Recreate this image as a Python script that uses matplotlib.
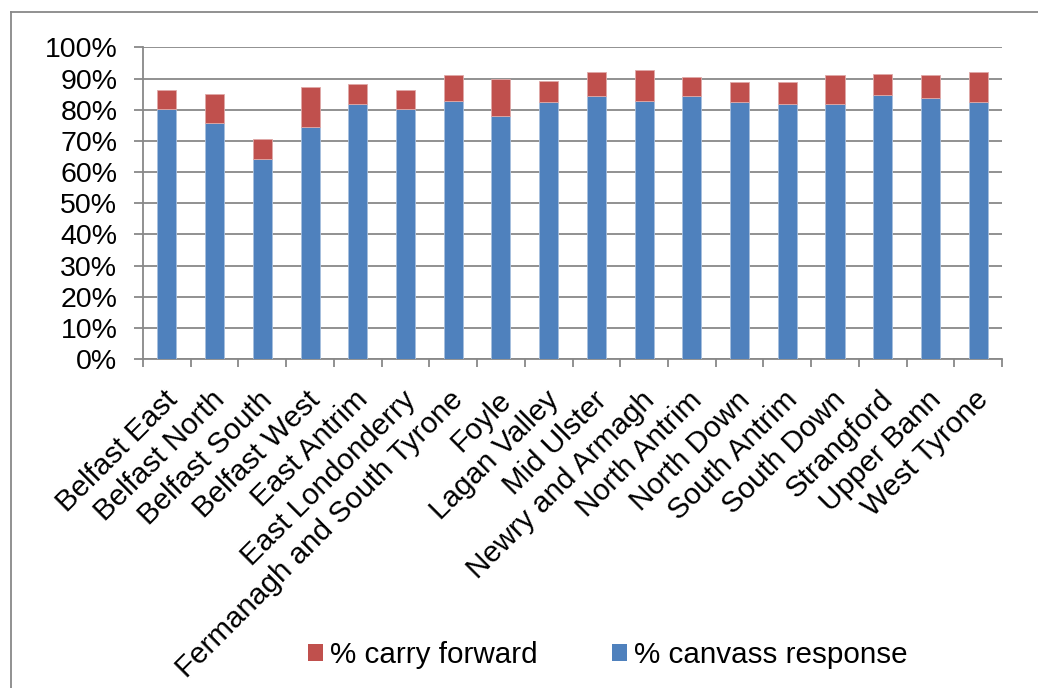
import matplotlib
matplotlib.use("Agg")
import matplotlib.pyplot as plt
import matplotlib.transforms as mtransforms
import numpy as np
from matplotlib.lines import Line2D
from matplotlib.patches import Patch

plt.rcParams["font.family"] = ["Liberation Sans", "DejaVu Sans"]

# constituencies and shares (%)
constituencies = [
    "Belfast East", "Belfast North", "Belfast South", "Belfast West",
    "East Antrim", "East Londonderry", "Fermanagh and South Tyrone", "Foyle",
    "Lagan Valley", "Mid Ulster", "Newry and Armagh", "North Antrim",
    "North Down", "South Antrim", "South Down", "Strangford",
    "Upper Bann", "West Tyrone",
]
canvass_response = [80.1, 75.6, 64.3, 74.6, 81.9, 80.1, 82.9, 78.0, 82.6, 84.4,
                    82.9, 84.4, 82.5, 81.9, 81.8, 84.6, 83.8, 82.4]
carry_forward = [6.2, 9.6, 6.3, 12.8, 6.3, 6.3, 8.3, 11.9, 6.5, 7.7,
                 9.9, 6.2, 6.3, 6.9, 9.2, 6.7, 7.3, 9.8]
yticks = np.arange(0, 101, 10)

BLUE = "#4F81BD"
RED = "#C0504D"
GRID = "#888888"

canvass = np.array(canvass_response) / 100
carry = np.array(carry_forward) / 100
x = np.arange(len(constituencies))

fig = plt.figure(figsize=(10.38, 6.88), dpi=100)
ax = fig.add_axes([0.1378, 0.4778, 0.8275, 0.4534])

ax.bar(x, canvass, width=0.4, color=BLUE, edgecolor="#A7BFDE", linewidth=0.6, zorder=3)
ax.bar(x, carry, bottom=canvass, width=0.4, color=RED, edgecolor="#E0A9A8",
       linewidth=0.6, zorder=3)

ax.set_xlim(-0.5, len(constituencies) - 0.5)
ax.set_ylim(0, 1)
ax.set_yticks(yticks / 100)
ax.set_yticklabels([f"{v}%" for v in yticks], fontsize=20.5)
ax.yaxis.grid(True, color=GRID, linewidth=1.3, zorder=0)
ax.set_axisbelow(True)

ax.set_xticks(x)
ax.set_xticklabels(constituencies, fontsize=21.3, rotation=45, ha="right",
                   va="top", rotation_mode="anchor")
ax.set_xticks(np.arange(-0.5, len(constituencies)), minor=True)
ax.tick_params(axis="x", which="major", length=0, pad=19)
ax.tick_params(axis="x", which="minor", length=6, width=1.3, color=GRID, direction="out")
ax.tick_params(axis="y", length=6.5, width=1.3, color=GRID, pad=12)
offset = mtransforms.ScaledTranslation(-4 / 100, 0, fig.dpi_scale_trans)
for lbl in ax.get_xticklabels():
    lbl.set_transform(lbl.get_transform() + offset)

for side in ("top", "right"):
    ax.spines[side].set_visible(False)
for side in ("left", "bottom"):
    ax.spines[side].set_color(GRID)
    ax.spines[side].set_linewidth(1.3)

handles = [Patch(facecolor=RED, label="% carry forward"),
           Patch(facecolor=BLUE, label="% canvass response")]
fig.legend(handles=handles, loc="center", bbox_to_anchor=(608 / 1038, 1 - 655 / 688),
           ncol=2, frameon=False, fontsize=21.3, handlelength=0.5, handleheight=0.5,
           handletextpad=0.25, columnspacing=2.5)

# chart-area border (top and left edges visible in the reference)
fig.add_artist(Line2D([11 / 1038, 1.0], [1 - 12 / 688, 1 - 12 / 688],
                      transform=fig.transFigure, color=GRID, linewidth=1.3))
fig.add_artist(Line2D([11 / 1038, 11 / 1038], [0.0, 1 - 12 / 688],
                      transform=fig.transFigure, color=GRID, linewidth=1.3))

fig.savefig("out.png", dpi=100)
